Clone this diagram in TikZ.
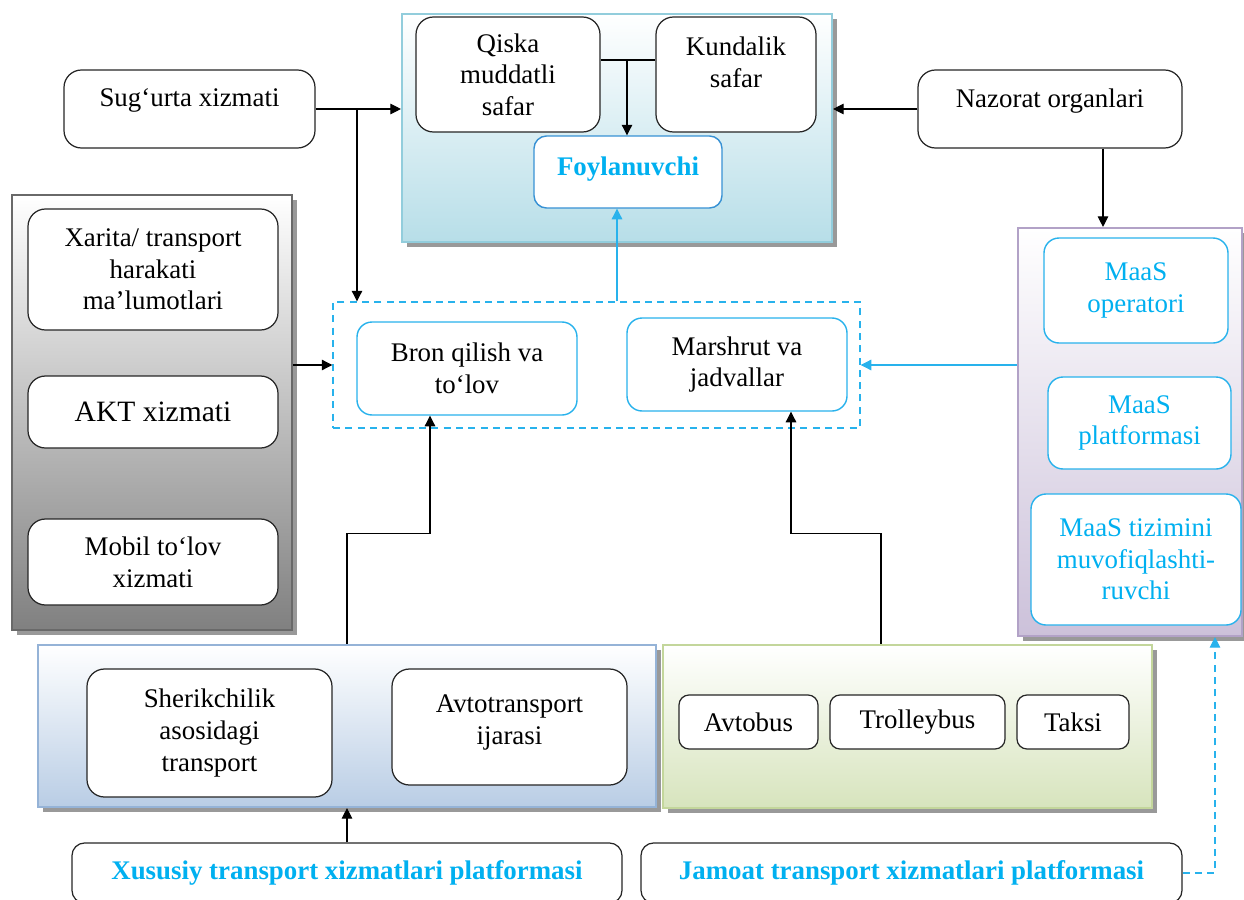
\documentclass[tikz,border=0pt]{standalone}
\usepackage{fontspec}
\setmainfont{Liberation Serif}
\usetikzlibrary{arrows.meta,shadows}

\definecolor{maascyan}{RGB}{0,176,240}
\definecolor{linecyan}{RGB}{40,178,236}
\definecolor{foylblue}{RGB}{55,145,212}
\definecolor{userborder}{RGB}{146,205,220}
\definecolor{userfill}{RGB}{183,222,232}
\definecolor{techborder}{RGB}{105,105,105}
\definecolor{techfill}{RGB}{128,128,128}
\definecolor{maasborder}{RGB}{178,162,199}
\definecolor{maasfill}{RGB}{204,193,218}
\definecolor{privborder}{RGB}{149,179,215}
\definecolor{privfill}{RGB}{185,205,229}
\definecolor{pubborder}{RGB}{195,214,155}
\definecolor{pubfill}{RGB}{215,228,189}

\tikzset{
  every node/.style={font=\rmfamily\fontsize{15.3}{18}\selectfont, align=center, inner sep=2pt},
  panel/.style={draw=#1border, line width=1.2pt, top color=white, bottom color=#1fill,
    drop shadow={shadow xshift=3pt, shadow yshift=-3pt, fill=black!40, opacity=1}},
  blackbox/.style={draw=black!85, fill=white, rounded corners=0.35cm, line width=0.7pt},
  cyanbox/.style={draw=linecyan, fill=white, rounded corners=0.3cm, line width=0.8pt},
  maasbox/.style={cyanbox, text=maascyan},
  boldcyan/.style={text=maascyan, font=\rmfamily\fontsize{15.3}{18}\selectfont\bfseries},
  arr/.style={-{Triangle[length=6pt,width=6pt]}, line width=0.6pt},
  cyanarr/.style={arr, draw=linecyan},
  dashline/.style={dash pattern=on 4pt off 3pt}
}

\begin{document}
\begin{tikzpicture}
		\useasboundingbox (0,0) rectangle (24.88,-17.98);
		
		%%%%% PANELS %%%%%
		\node[panel=user, minimum width=8.6cm, minimum height=4.56cm] (userpanel) at (12.34,-2.56) {};
		\node[panel=tech, minimum width=5.6cm, minimum height=8.7cm] (techpanel) at (3.04,-8.25) {};
		\node[panel=maas, minimum width=4.48cm, minimum height=8.16cm] (maaspanel) at (22.6,-8.64) {};
		\node[panel=priv, minimum width=12.36cm, minimum height=3.24cm] (privpanel) at (6.94,-14.52) {};
		\node[panel=pub, minimum width=9.78cm, minimum height=3.26cm] (pubpanel) at (18.15,-14.53) {};
		\node[draw=linecyan, dashline, line width=0.8pt, minimum width=10.54cm, minimum height=2.52cm] (servicebox) at (11.93,-7.3) {};
		
		%%%%% USER %%%%%
		\node[blackbox, minimum width=3.68cm, minimum height=2.3cm] (shorttrip) at (10.16,-1.49) {Qiska\\muddatli\\safar};
		\node[blackbox, minimum width=3.2cm, minimum height=2.3cm, text depth=0.5cm] (dailytrip) at (14.72,-1.49) {Kundalik\\safar};
		\node[cyanbox, draw=foylblue, rounded corners=0.25cm, boldcyan, minimum width=3.76cm, minimum height=1.44cm, text depth=0.25cm] (user) at (12.56,-3.44) {Foylanuvchi};
		
		\node[blackbox, minimum width=5.02cm, minimum height=1.56cm, text depth=0.45cm] (insurance) at (3.79,-2.18) {Sug‘urta xizmati};
		\node[blackbox, minimum width=5.28cm, minimum height=1.56cm, text depth=0.45cm] (control) at (21.0,-2.18) {Nazorat organlari};
		
		%%%%% TECH %%%%%
		\node[blackbox, minimum width=5.0cm, minimum height=2.42cm] (mapdata) at (3.06,-5.39) {Xarita/ transport\\harakati\\ma’lumotlari};
		\node[blackbox, minimum width=5.0cm, minimum height=1.44cm, font=\rmfamily\fontsize{16.8}{20}\selectfont] (ict) at (3.06,-8.24) {AKT xizmati};
		\node[blackbox, minimum width=5.0cm, minimum height=1.72cm] (mobilepay) at (3.06,-11.24) {Mobil to‘lov\\xizmati};
		
		%%%%% SERVICES %%%%%
		\node[cyanbox, minimum width=4.4cm, minimum height=1.86cm] (booking) at (9.34,-7.37) {Bron qilish va\\to‘lov};
		\node[cyanbox, minimum width=4.4cm, minimum height=1.86cm] (route) at (14.74,-7.29) {Marshrut va\\jadvallar};
		
		%%%%% MAAS %%%%%
		\node[maasbox, minimum width=3.68cm, minimum height=2.1cm] (operator) at (22.72,-5.81) {MaaS\\operatori};
		\node[maasbox, minimum width=3.66cm, minimum height=1.84cm] (platform) at (22.79,-8.46) {MaaS\\platformasi};
		\node[maasbox, minimum width=4.2cm, minimum height=2.62cm] (integrator) at (22.72,-11.19) {MaaS tizimini\\muvofiqlashti-\\ruvchi};
		
		%%%%% PRIVATE / PUBLIC %%%%%
		\node[blackbox, minimum width=4.9cm, minimum height=2.56cm] (sharing) at (4.19,-14.66) {Sherikchilik\\asosidagi\\transport};
		\node[blackbox, minimum width=4.7cm, minimum height=2.32cm, text depth=0.3cm] (rental) at (10.19,-14.54) {Avtotransport\\ijarasi};
		
		\node[blackbox, rounded corners=0.2cm, minimum width=2.78cm, minimum height=1.08cm] (bus) at (14.97,-14.44) {Avtobus};
		\node[blackbox, rounded corners=0.2cm, minimum width=3.5cm, minimum height=1.08cm] (trolley) at (18.35,-14.44) {Trolleybus};
		\node[blackbox, rounded corners=0.2cm, minimum width=2.24cm, minimum height=1.08cm] (taxi) at (21.46,-14.44) {Taksi};
		
		\node[blackbox, rounded corners=0.25cm, boldcyan, minimum width=11.0cm, minimum height=1.2cm] (privplat) at (6.94,-17.46) {Xususiy transport xizmatlari platformasi};
		\node[blackbox, rounded corners=0.25cm, boldcyan, minimum width=10.82cm, minimum height=1.2cm] (pubplat) at (18.23,-17.46) {Jamoat transport xizmatlari platformasi};
		
		%%%%% CONNECTORS %%%%%
		\coordinate (tripjoin) at (12.54,-1.2);
		\draw[line width=0.6pt] (shorttrip.east |- tripjoin) -- (dailytrip.west |- tripjoin);
		\draw[arr] (tripjoin) -- (tripjoin |- user.north);
		
		\coordinate (insjoin) at (7.14,-2.16);
		\draw[arr] (insurance.east) -- (insurance.east -| userpanel.west);
		\draw[arr] (insjoin) -- (insjoin |- servicebox.north);
		\draw[arr] (control.west) -- (control.west -| userpanel.east);
		\draw[arr] ([xshift=1.06cm]control.south) -- ([xshift=1.06cm]control.south |- maaspanel.north);
		
		\draw[arr] (servicebox.west -| techpanel.east) -- (servicebox.west);
		\draw[cyanarr] (servicebox.east -| maaspanel.west) -- (servicebox.east);
		\draw[cyanarr] ([xshift=0.41cm]servicebox.north) -- ([xshift=0.41cm]servicebox.north |- user.south);
		
		\draw[arr] (privpanel.north) -- ++(0,2.2) -| ([xshift=-0.74cm]booking.south);
		\draw[arr] ([xshift=-0.53cm]pubpanel.north) -- ++(0,2.2) -| ([xshift=1.08cm]route.south);
		\draw[arr] (privplat.north) -- (privpanel.south);
		\draw[cyanarr, dashline] (pubplat.east) -| ([xshift=1.7cm]maaspanel.south);
		
\end{tikzpicture}
\end{document}
